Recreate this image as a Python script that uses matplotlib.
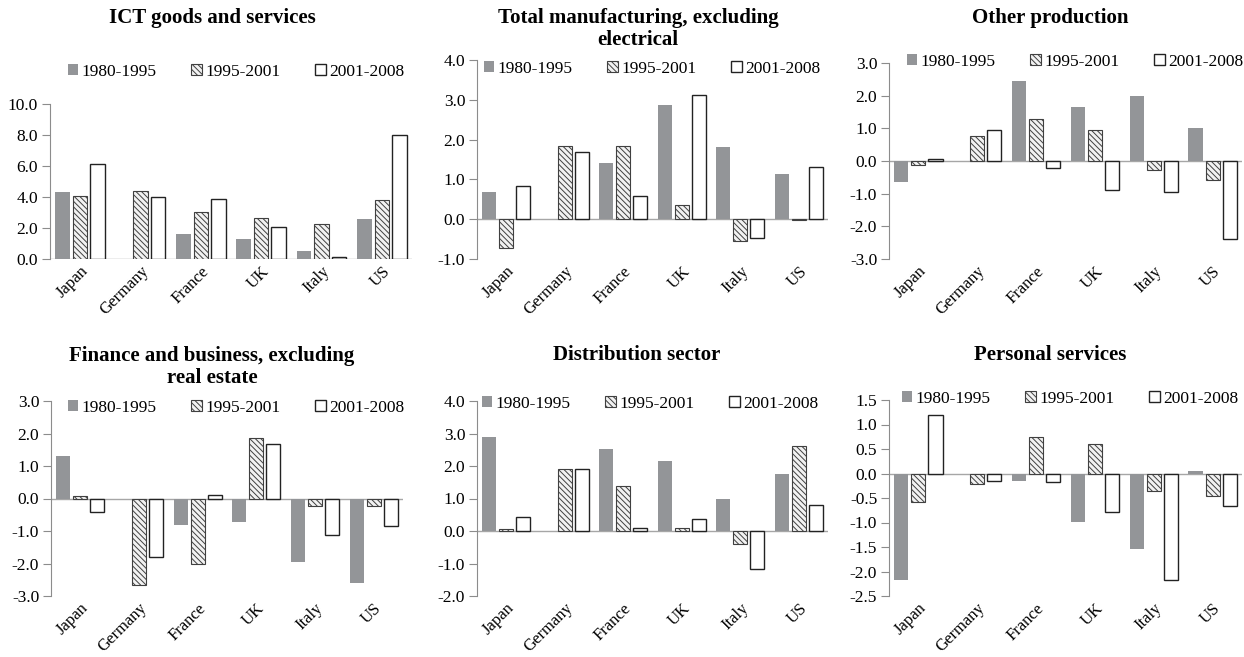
import numpy as np
import matplotlib
matplotlib.use("Agg")
import matplotlib.pyplot as plt
from matplotlib.ticker import FormatStrFormatter

plt.rcParams["font.family"] = ["Liberation Serif", "DejaVu Serif"]
plt.rcParams["hatch.color"] = "#8a8a8a"
plt.rcParams["hatch.linewidth"] = 0.7

countries = ["Japan", "Germany", "France", "UK", "Italy", "US"]
periods = ["1980-1995", "1995-2001", "2001-2008"]

titles = [
    "ICT goods and services",
    "Total manufacturing, excluding\nelectrical",
    "Other production",
    "Finance and business, excluding\nreal estate",
    "Distribution sector",
    "Personal services",
]

# growth values per panel: rows = periods, columns = countries
ict = [[4.34, np.nan, 1.62, 1.32, 0.52, 2.59],
       [4.04, 4.38, 3.05, 2.63, 2.29, 3.78],
       [6.16, 4.00, 3.89, 2.05, 0.11, 7.99]]
manuf = [[0.68, np.nan, 1.41, 2.88, 1.82, 1.14],
         [-0.73, 1.85, 1.83, 0.35, -0.54, -0.03],
         [0.83, 1.68, 0.58, 3.13, -0.48, 1.30]]
other = [[-0.65, np.nan, 2.46, 1.66, 1.99, 1.00],
         [-0.12, 0.77, 1.30, 0.96, -0.28, -0.58],
         [0.05, 0.94, -0.21, -0.90, -0.96, -2.39]]
finance = [[1.31, np.nan, -0.83, -0.71, -1.95, -2.60],
           [0.07, -2.67, -2.00, 1.85, -0.23, -0.24],
           [-0.43, -1.81, 0.10, 1.68, -1.12, -0.86]]
distrib = [[2.88, np.nan, 2.51, 2.16, 0.99, 1.76],
           [0.06, 1.92, 1.38, 0.08, -0.39, 2.62],
           [0.44, 1.92, 0.10, 0.37, -1.16, 0.81]]
personal = [[-2.18, np.nan, -0.16, -0.98, -1.55, 0.06],
            [-0.59, -0.22, 0.74, 0.61, -0.35, -0.46],
            [1.19, -0.16, -0.17, -0.78, -2.18, -0.67]]
panels = [ict, manuf, other, finance, distrib, personal]

ylims = [(0, 10), (-1, 4), (-3, 3), (-3, 3), (-2, 4), (-2.5, 1.5)]
ysteps = [2.0, 1.0, 1.0, 1.0, 1.0, 0.5]

W, H = 1244, 657
# axes boxes in pixels: left, right, top, bottom
boxes = [(50, 412, 104, 259), (477, 828, 60, 259), (889, 1242, 63, 259),
         (51, 403, 401, 596), (477, 828, 401, 596), (889, 1242, 400, 596)]
title_pos = [(212, 18), (638, 29), (1050, 18), (212, 367), (637, 355), (1050, 355)]
legend_pos = [(236, 72), (652, 69), (1075, 62), (236, 408), (650, 404), (1070, 399)]

styles = [dict(color="#939598", edgecolor="none"),
          dict(color="#f2f2f2", edgecolor="#404040", hatch="\\\\\\\\\\\\", linewidth=0.8),
          dict(color="white", edgecolor="#222222", linewidth=1.0)]

fig = plt.figure(figsize=(W / 100, H / 100), dpi=100)
x = np.arange(len(countries))
width = 0.24
offs = [-0.29, 0.0, 0.29]

for i, data in enumerate(panels):
    l, r, t, b = boxes[i]
    ax = fig.add_axes([l / W, 1 - b / H, (r - l) / W, (b - t) / H])
    for k, period in enumerate(periods):
        ax.bar(x + offs[k], data[k], width, label=period, **styles[k])
    lo, hi = ylims[i]
    ax.set_ylim(lo, hi)
    ax.set_xlim(-0.5, len(countries) - 0.5)
    ax.set_yticks(np.arange(lo, hi + 1e-9, ysteps[i]))
    ax.yaxis.set_major_formatter(FormatStrFormatter("%.1f"))
    ax.axhline(0, color="#a6a6a6", linewidth=1.0, zorder=0.5)
    for s in ["top", "right", "bottom"]:
        ax.spines[s].set_visible(False)
    ax.spines["left"].set_color("#8c8c8c")
    ax.tick_params(axis="y", direction="out", length=5.5, color="#8c8c8c",
                   labelsize=12.5, pad=3)
    ax.tick_params(axis="x", length=0, labelsize=12, pad=3)
    ax.set_xticks(x)
    ax.set_xticklabels(countries, rotation=45, ha="right", va="top",
                       rotation_mode="anchor")
    tx, ty = title_pos[i]
    fig.text(tx / W, 1 - ty / H, titles[i], ha="center", va="center",
             fontsize=15, fontweight="bold", linespacing=1.15)
    lx, ly = legend_pos[i]
    ax.legend(loc="center", bbox_to_anchor=(lx / W, 1 - ly / H),
              bbox_transform=fig.transFigure, ncol=3, frameon=False,
              fontsize=12.5, handlelength=0.6, handleheight=0.6,
              handletextpad=0.2, columnspacing=2.0, borderpad=0)

fig.savefig("out.png", dpi=100)
